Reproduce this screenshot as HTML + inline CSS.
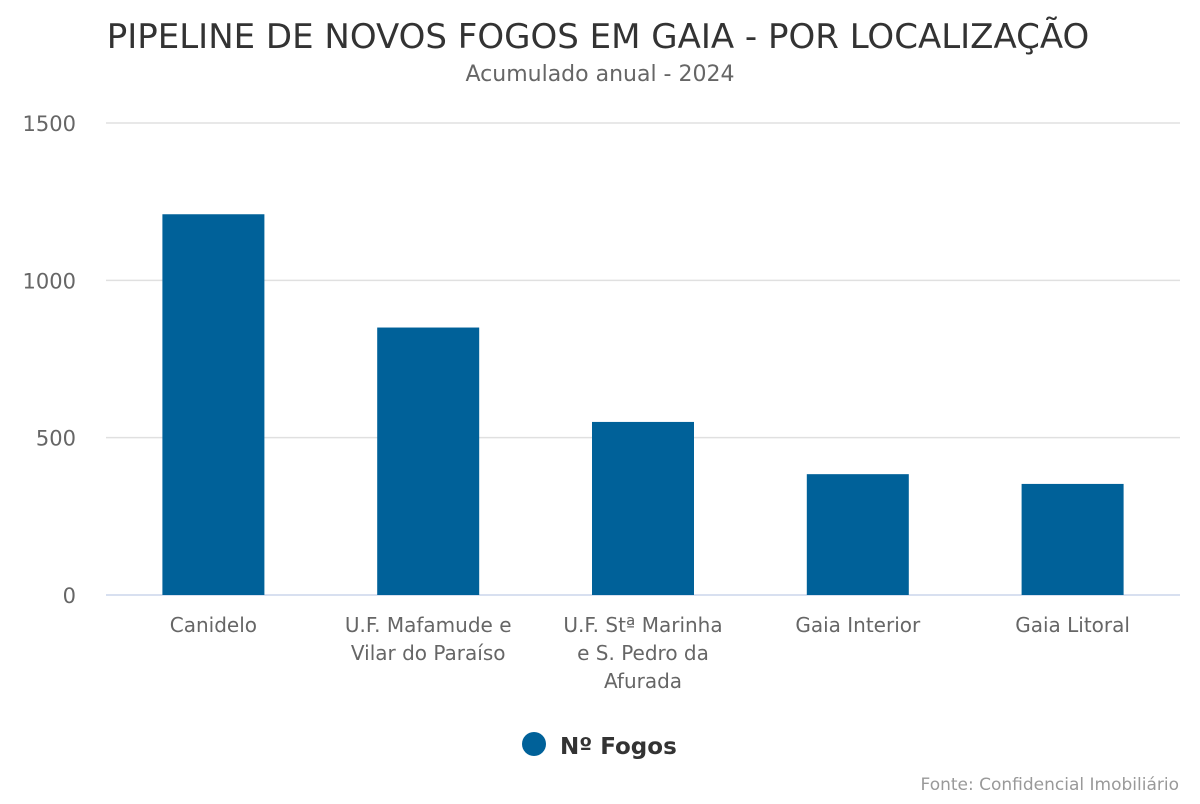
<!DOCTYPE html>
<html><head><meta charset="utf-8">
<style>
body{margin:0;background:#fff;font-family:"DejaVu Sans","Liberation Sans",sans-serif;}
svg text{font-family:"DejaVu Sans","Liberation Sans",sans-serif;}
</style></head>
<body>
<svg id="chart" width="1200" height="800" xmlns="http://www.w3.org/2000/svg">
<text x="598" y="48" text-anchor="middle" font-size="34" fill="#333">PIPELINE DE NOVOS FOGOS EM GAIA - POR LOCALIZAÇÃO</text>
<text x="600" y="81" text-anchor="middle" font-size="22" fill="#666">Acumulado anual - 2024</text>
<g id="grid"></g>
<g id="bars"></g>
<g id="xlabels"></g>
<g>
<circle cx="534" cy="744" r="12" fill="#006199"/>
<text x="560" y="754" font-size="23" font-weight="bold" fill="#333">Nº Fogos</text>
</g>
<text x="1179" y="790" text-anchor="end" font-size="17" fill="#999">Fonte: Confidencial Imobiliário</text>
</svg>
<script>
const categories = [["Canidelo"],["U.F. Mafamude e","Vilar do Paraíso"],["U.F. Stª Marinha","e S. Pedro da","Afurada"],["Gaia Interior"],["Gaia Litoral"]];
const values = [1210, 850, 550, 384, 353];
const ticks = [0, 500, 1000, 1500];
const NS="http://www.w3.org/2000/svg";
const x0=106,x1=1180,yBase=595,yTop=123,maxV=1500;
const y=v=>yBase-(v/maxV)*(yBase-yTop);
const band=(x1-x0)/categories.length;
const bw=102;
function mk(tag,attrs,parent){const e=document.createElementNS(NS,tag);for(const k in attrs)e.setAttribute(k,attrs[k]);parent.appendChild(e);return e;}
const grid=document.getElementById('grid');
ticks.forEach(t=>{
  const l=mk('line',{x1:x0,x2:x1,y1:y(t),y2:y(t),stroke:t===0?'#ccd6eb':'#e0e0e0','stroke-width':t===0?1.5:1.5},grid);
  
  
  const tx=mk('text',{x:76,y:y(t)+8,'text-anchor':'end','font-size':21,fill:'#666'},grid);
  tx.textContent=t;
  
  
});
const bars=document.getElementById('bars'),xl=document.getElementById('xlabels');
values.forEach((v,i)=>{
  const cx=x0+band*(i+0.5);
  const r=mk('rect',{x:cx-bw/2,y:y(v),width:bw,height:yBase-y(v),fill:'#006199'},bars);
  
  
  categories[i].forEach((line,j)=>{
    const t=mk('text',{x:cx,y:632+j*28,'text-anchor':'middle','font-size':20,fill:'#666'},xl);
    t.textContent=line;
    
    
  });
});
</script>
</body></html>
